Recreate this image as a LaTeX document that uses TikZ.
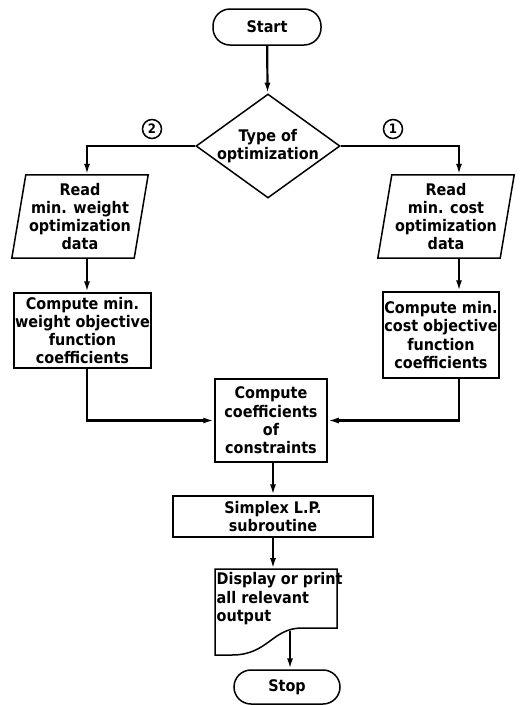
\documentclass[tikz,border=0pt]{standalone}
\usepackage{fontspec}
\setmainfont{DejaVu Sans Condensed}
\usepackage{tikz}
\usetikzlibrary{arrows.meta,calc,shapes.geometric}

\begin{document}
\begin{tikzpicture}[
      x=1pt, y=-1pt,
      font=\fontsize{16}{18.3}\selectfont\bfseries,
      outline/.style={line width=1.5pt},
      box/.style={draw, outline, align=center, inner sep=0pt},
      term/.style={box, rounded corners=17pt, minimum width=108pt,
        minimum height=36pt},
      iobox/.style={align=center, inner sep=0pt, minimum width=122pt,
        minimum height=83pt},
      num/.style={circle, draw, line width=1.5pt, minimum size=19pt,
        inner sep=0pt, font=\fontsize{13}{13}\selectfont\bfseries},
      arr/.style={-{Latex[length=11pt,width=6pt]}, line width=2.2pt}
    ]
    \newcommand{\slantbox}[1]{%
      \draw[outline] ($(#1.north west)+(7,0)$) -- ($(#1.north east)+(7,0)$)
        -- ($(#1.south east)+(-7,0)$) -- ($(#1.south west)+(-7,0)$) -- cycle;
    }
    \useasboundingbox (0,0) rectangle (520,705);
    \coordinate (lcol) at (87,0);
    \coordinate (rcol) at (459,0);

    \node[term] (start) at (267,27) {Start};
    \node[diamond, draw, outline, minimum width=144pt, minimum height=104pt,
      inner sep=0pt, label={[align=center]center:Type of\\optimization}]
      (type) at (268,146) {};
    \draw[arr] (start) -- (type);

    \node[num] (two) at (152,129) {2};
    \node[num] (one) at (393,129) {1};

    \node[iobox] (readw) at (80,216.5) {Read\\min. weight\\optimization\\data};
    \slantbox{readw}
    \node[iobox] (readc) at (446,216.5) {Read\\min. cost\\optimization\\data};
    \slantbox{readc}
    \draw[arr] (type.west) -| (readw.north -| lcol);
    \draw[arr] (type.east) -| (readc.north -| rcol);

    \node[box, minimum width=137pt, minimum height=75pt] (computew)
      at (82.5,330.5) {Compute min.\\weight objective\\function\\coefficients};
    \node[box, minimum width=116pt, minimum height=86pt] (computec)
      at (441,335) {Compute min.\\cost objective\\function\\coefficients};
    \draw[arr] (readw.south -| lcol) -- (computew.north -| lcol);
    \draw[arr] (readc.south -| rcol) -- (computec.north -| rcol);

    \node[box, minimum width=112pt, minimum height=83pt] (constr)
      at (271,420.5) {Compute\\coefficients\\of\\constraints};
    \draw[arr] (computew.south -| lcol) |- (constr.west);
    \draw[arr] (computec.south -| rcol) |- (constr.east);

    \node[box, minimum width=200pt, minimum height=41pt] (simplex)
      at (273,516.5) {Simplex L.P.\\subroutine};
    \draw[arr] (constr.south -| simplex) -- (simplex.north);

    % document shape
    \draw[outline] (215,569) -- (337,569) -- (337,628) -- (302,628)
      .. controls (272,628) and (268,655) .. (232,655) -- (215,655) -- cycle;
    \node[anchor=north west, align=left, inner sep=1.5pt] (display)
      at (215,571) {Display or print\\all relevant\\output};
    \coordinate (docout) at (290,630.5);
    \draw[arr] (simplex.south) -- (simplex.south |- 0,569);

    \node[term, minimum width=106pt, minimum height=34pt] (stop)
      at (287,687) {Stop};
    \draw[arr] (docout) -- (docout |- stop.north);
  \end{tikzpicture}
\end{document}
